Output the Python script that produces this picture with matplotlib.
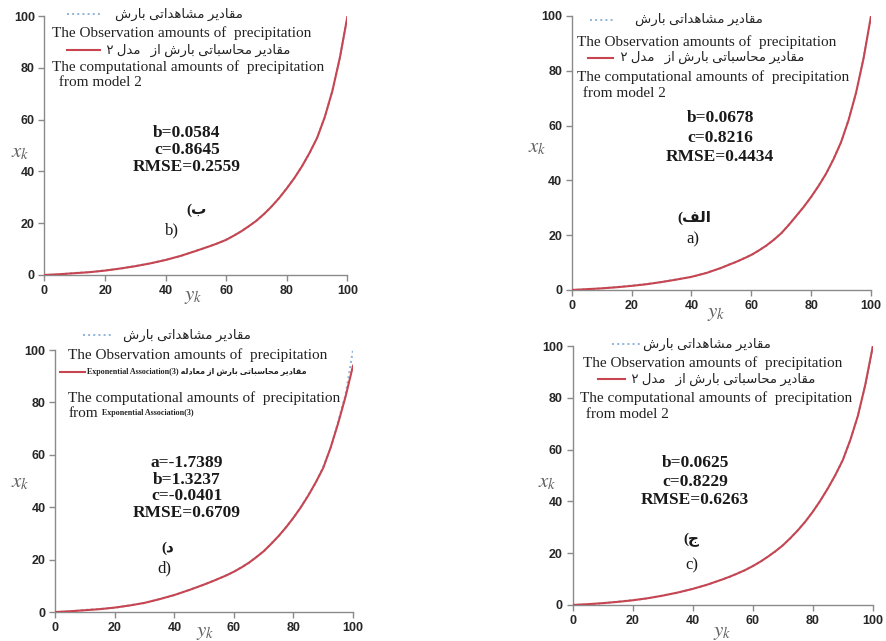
import matplotlib.pyplot as plt
from matplotlib.lines import Line2D

#------------------------------------------------------------------------------
# DATA  (x_k, denser where they get steep)

y_k = [0, 5, 10, 15, 20, 25, 30, 35, 40, 45, 50,
       52.5, 55, 57.5, 60, 62.5, 65, 67.5, 70, 72.5, 75,
       77.5, 80, 82.5, 85, 87.5, 90, 92.5, 95, 97.5, 100]

# a) model 2
obs_a  = [0, 0.2, 0.6, 1.1, 1.6, 2.2, 2.9, 3.9, 4.7, 6.3, 8.0,
          9.3, 10.2, 11.6, 12.7, 14.5, 16.1, 18.4, 20.6, 23.8, 26.9,
          30.4, 33.8, 38.2, 42.3, 48.0, 53.8, 62.2, 71.8, 84.7, 100]
calc_a = [0, 0.3, 0.6, 1.0, 1.5, 2.1, 2.9, 3.8, 4.8, 6.2, 8.1,
          9.2, 10.3, 11.5, 12.8, 14.4, 16.2, 18.3, 20.7, 23.7, 27.0,
          30.3, 34.0, 38.0, 42.5, 47.8, 54.0, 62.0, 72.0, 84.5, 100]

# b) model 2
obs_b  = [0, 0.2, 0.8, 1.1, 1.8, 2.4, 3.5, 4.5, 5.9, 7.3, 9.4,
          10.2, 11.4, 12.3, 13.7, 15.1, 17.0, 18.8, 21.1, 23.5, 26.6,
          29.7, 33.6, 37.4, 42.1, 47.0, 53.2, 60.8, 71.2, 83.8, 100]
calc_b = [0, 0.3, 0.7, 1.1, 1.7, 2.5, 3.4, 4.5, 5.8, 7.4, 9.3,
          10.3, 11.3, 12.4, 13.6, 15.2, 16.9, 18.9, 21.0, 23.6, 26.5,
          29.8, 33.5, 37.5, 42.0, 47.2, 53.0, 61.0, 71.0, 84.0, 100]

# c) model 2
obs_c  = [0, 0.2, 0.6, 1.3, 1.9, 2.5, 3.7, 4.7, 6.3, 7.8, 10.0,
          10.9, 12.3, 13.4, 15.1, 16.6, 18.7, 20.6, 23.1, 25.7, 28.9,
          32.1, 36.1, 40.2, 45.1, 50.0, 56.2, 63.6, 73.2, 85.0, 100]
calc_c = [0, 0.3, 0.7, 1.2, 1.8, 2.6, 3.6, 4.8, 6.2, 7.9, 9.9,
          11.0, 12.2, 13.5, 15.0, 16.7, 18.6, 20.7, 23.0, 25.8, 28.8,
          32.2, 36.0, 40.3, 45.0, 50.2, 56.0, 63.8, 73.0, 85.2, 100]

# d) Exponential Association (3)
obs_d  = [0, 0.2, 0.8, 1.2, 1.6, 2.6, 3.4, 5.0, 6.4, 8.5, 10.4,
          11.7, 12.7, 14.1, 15.3, 17.1, 18.7, 21.0, 23.1, 26.1, 28.9,
          32.4, 35.8, 40.2, 44.7, 49.3, 55.4, 62.6, 72.6, 83.0, 100]
calc_d = [0, 0.3, 0.7, 1.1, 1.7, 2.5, 3.5, 4.9, 6.5, 8.4, 10.5,
          11.6, 12.8, 14.0, 15.4, 17.0, 18.8, 20.9, 23.2, 26.0, 29.0,
          32.3, 36.0, 40.0, 44.5, 49.5, 55.0, 62.8, 72.0, 82.2, 94]

stats_a = ['b=0.0678', 'c=0.8216', 'RMSE=0.4434']
stats_b = ['b=0.0584', 'c=0.8645', 'RMSE=0.2559']
stats_c = ['b=0.0625', 'c=0.8229', 'RMSE=0.6263']
stats_d = ['a=-1.7389', 'b=1.3237', 'c=-0.0401', 'RMSE=0.6709']

ticks = [0, 20, 40, 60, 80, 100]

#------------------------------------------------------------------------------
# Persian text: pick the contextual glyph of every letter and lay it out
# right to left, since matplotlib does no Arabic shaping itself

FORMS = {   # isolated, final, initial, medial
    'ا': ('\uFE8D', '\uFE8E', None, None),
    'ب': ('\uFE8F', '\uFE90', '\uFE91', '\uFE92'),
    'ت': ('\uFE95', '\uFE96', '\uFE97', '\uFE98'),
    'ج': ('\uFE9D', '\uFE9E', '\uFE9F', '\uFEA0'),
    'ح': ('\uFEA1', '\uFEA2', '\uFEA3', '\uFEA4'),
    'د': ('\uFEA9', '\uFEAA', None, None),
    'ر': ('\uFEAD', '\uFEAE', None, None),
    'ز': ('\uFEAF', '\uFEB0', None, None),
    'س': ('\uFEB1', '\uFEB2', '\uFEB3', '\uFEB4'),
    'ش': ('\uFEB5', '\uFEB6', '\uFEB7', '\uFEB8'),
    'ع': ('\uFEC9', '\uFECA', '\uFECB', '\uFECC'),
    'ف': ('\uFED1', '\uFED2', '\uFED3', '\uFED4'),
    'ق': ('\uFED5', '\uFED6', '\uFED7', '\uFED8'),
    'ل': ('\uFEDD', '\uFEDE', '\uFEDF', '\uFEE0'),
    'م': ('\uFEE1', '\uFEE2', '\uFEE3', '\uFEE4'),
    'ه': ('\uFEE9', '\uFEEA', '\uFEEB', '\uFEEC'),
    'ی': ('\uFBFC', '\uFBFD', '\uFBFE', '\uFBFF'),
}
MIRROR = {'(': ')', ')': '('}


def fa(text):
    out = []
    for i, ch in enumerate(text):
        if ch not in FORMS:
            out.append(MIRROR.get(ch, ch))
            continue
        prev = text[i - 1] if i > 0 else ''
        nxt = text[i + 1] if i < len(text) - 1 else ''
        iso, fin, ini, med = FORMS[ch]
        j_prev = prev in FORMS and FORMS[prev][2] is not None
        j_next = nxt in FORMS and ini is not None
        if j_prev and j_next:
            out.append(med)
        elif j_prev:
            out.append(fin)
        elif j_next:
            out.append(ini)
        else:
            out.append(iso)
    return ''.join(reversed(out))


OBS_FA  = fa('مقادیر مشاهداتی بارش')
CALC_FA = fa('مقادیر محاسباتی بارش از   مدل ۲ ')
EXP_FA  = fa('مقادیر محاسباتی بارش از معادله')

MIXED = ['Liberation Serif', 'DejaVu Sans']

#------------------------------------------------------------------------------
# PANEL LAYOUT  (text positions in data units, axes span 0-100 both ways)

panels = [
    dict(obs=obs_b, calc=calc_b, stats=stats_b, tag_fa=fa('ب)'), tag_en='b)',
         rect=[0.0502, 0.571, 0.342, 0.404],
         l1=(7.4, 18.3, 23.3, 100.6), l2=(2.5, 93.4), l3=(7.4, 18.3, 19.3, 86.9),
         l4=(2.5, 80.3), l5=(3.5, 74.5), st=(47, 54.8, 6.5),
         tfa=(50.3, 25.1), ten=(42, 17.4), xk=(-0.081, 0.475), yk=(0.49, -0.081)),
    dict(obs=obs_a, calc=calc_a, stats=stats_a, tag_fa=fa('الف)'), tag_en='a)',
         rect=[0.6453, 0.5476, 0.3378, 0.4275],
         l1=(6.1, 14.5, 21.2, 98.7), l2=(1.8, 90.3), l3=(5.5, 13.9, 15.1, 84.7),
         l4=(1.8, 77.6), l5=(2.5, 71.8), st=(49.6, 62.7, 7.1),
         tfa=(41, 26.2), ten=(40.5, 18.5), xk=(-0.116, 0.522), yk=(0.482, -0.084)),
    dict(obs=obs_d, calc=calc_d, stats=stats_d, tag_fa=fa('د)'), tag_en='d)',
         rect=[0.0624, 0.0452, 0.336, 0.4087],
         l1=(9.3, 19.4, 22.8, 105.6), l2=(4.3, 98), l3=(1.6, 10, 10.6, 91.7),
         l4=(4.3, 81.7), l5=(4.3, 75.9), st=(44.2, 56.7, 6.3),
         tfa=(37.9, 24.3), ten=(36.6, 16.7), xk=(-0.119, 0.496), yk=(0.503, -0.076)),
    dict(obs=obs_c, calc=calc_c, stats=stats_c, tag_fa=fa('ج)'), tag_en='c)',
         rect=[0.6462, 0.0562, 0.339, 0.404],
         l1=(13, 22.5, 23.5, 100.8), l2=(3.5, 93.3), l3=(8.5, 17.5, 18.5, 87.1),
         l4=(2.5, 79.8), l5=(3.2, 73.4), st=(40.8, 54.7, 7.1),
         tfa=(39.7, 25.1), ten=(39.7, 15.4), xk=(-0.085, 0.475), yk=(0.497, -0.104)),
]

OBS_COLOR = '#8db3da'
CALC_COLOR = '#c64550'
AXIS_COLOR = '#8a8a8a'
TEXT_COLOR = '#222222'

plt.rcParams['mathtext.fontset'] = 'stix'

#------------------------------------------------------------------------------
# PLOT THE GRAPH

fig = plt.figure(figsize=(8.86, 6.41), dpi=100)

for i, p in enumerate(panels):
    ax = fig.add_axes(p['rect'])
    expo = (i == 2)

    ax.plot(y_k, p['obs'], color=OBS_COLOR, lw=1.4, ls=':', zorder=2)
    ax.plot(y_k, p['calc'], color=CALC_COLOR, lw=1.5, zorder=3)

    ax.set_xlim(0, 100)
    ax.set_ylim(0, 100)
    ax.set_xticks(ticks)
    ax.set_yticks(ticks)
    for s in ['top', 'right']:
        ax.spines[s].set_visible(False)
    for s in ['left', 'bottom']:
        ax.spines[s].set_color(AXIS_COLOR)
        ax.spines[s].set_linewidth(1.0)
    ax.tick_params(direction='out', length=4, width=1, color=AXIS_COLOR,
                   labelsize=9, labelcolor='#262626', pad=3)
    for lab in ax.get_xticklabels() + ax.get_yticklabels():
        lab.set_fontweight('bold')
        lab.set_fontfamily('Liberation Sans')

    # axis labels
    ax.set_xlabel(r'$y_k$', fontsize=15, color='#606060', va='center')
    ax.set_ylabel(r'$x_k$', fontsize=15, color='#606060', rotation=0,
                  va='center', ha='center')
    ax.xaxis.set_label_coords(*p['yk'])
    ax.yaxis.set_label_coords(*p['xk'])

    # legend rows
    x0, x1, xt, yl = p['l1']
    ax.add_line(Line2D([x0, x1], [yl, yl], color=OBS_COLOR, lw=1.4, ls=':',
                       clip_on=False))
    ax.text(xt, yl, OBS_FA, fontsize=9.5, family=MIXED, color=TEXT_COLOR,
            va='center', ha='left')
    ax.text(*p['l2'], 'The Observation amounts of  precipitation',
            fontsize=11, family=MIXED, color=TEXT_COLOR, va='center')

    x0, x1, xt, yl = p['l3']
    ax.add_line(Line2D([x0, x1], [yl, yl], color=CALC_COLOR, lw=1.5,
                       clip_on=False))
    if expo:
        ax.text(xt, yl, 'Exponential Association(3) ' + EXP_FA, fontsize=5.8,
                family=MIXED, fontweight='bold', color=TEXT_COLOR, va='center')
    else:
        ax.text(xt, yl, CALC_FA, fontsize=9.5, family=MIXED, color=TEXT_COLOR,
                va='center')
    ax.text(*p['l4'], 'The computational amounts of  precipitation',
            fontsize=11, family=MIXED, color=TEXT_COLOR, va='center')
    if expo:
        ax.text(*p['l5'], 'from', fontsize=11, family=MIXED,
                color=TEXT_COLOR, va='center')
        ax.text(p['l5'][0] + 11.5, p['l5'][1], 'Exponential Association(3)',
                fontsize=5.8, family=MIXED, fontweight='bold',
                color=TEXT_COLOR, va='center')
    else:
        ax.text(*p['l5'], ' from model 2', fontsize=11, family=MIXED,
                color=TEXT_COLOR, va='center')

    # fitted parameters
    sx, sy, dy = p['st']
    for k, s in enumerate(p['stats']):
        ax.text(sx, sy - k * dy, s, fontsize=12.5, family=MIXED,
                fontweight='bold', color='#1a1a1a', ha='center', va='center')

    # panel tags
    ax.text(*p['tfa'], p['tag_fa'], fontsize=11, family=MIXED,
            fontweight='bold', color='#1a1a1a', ha='center', va='center')
    ax.text(*p['ten'], p['tag_en'], fontsize=12, family=MIXED,
            color='#1a1a1a', ha='center', va='center')

plt.savefig('out.png', dpi=100)
